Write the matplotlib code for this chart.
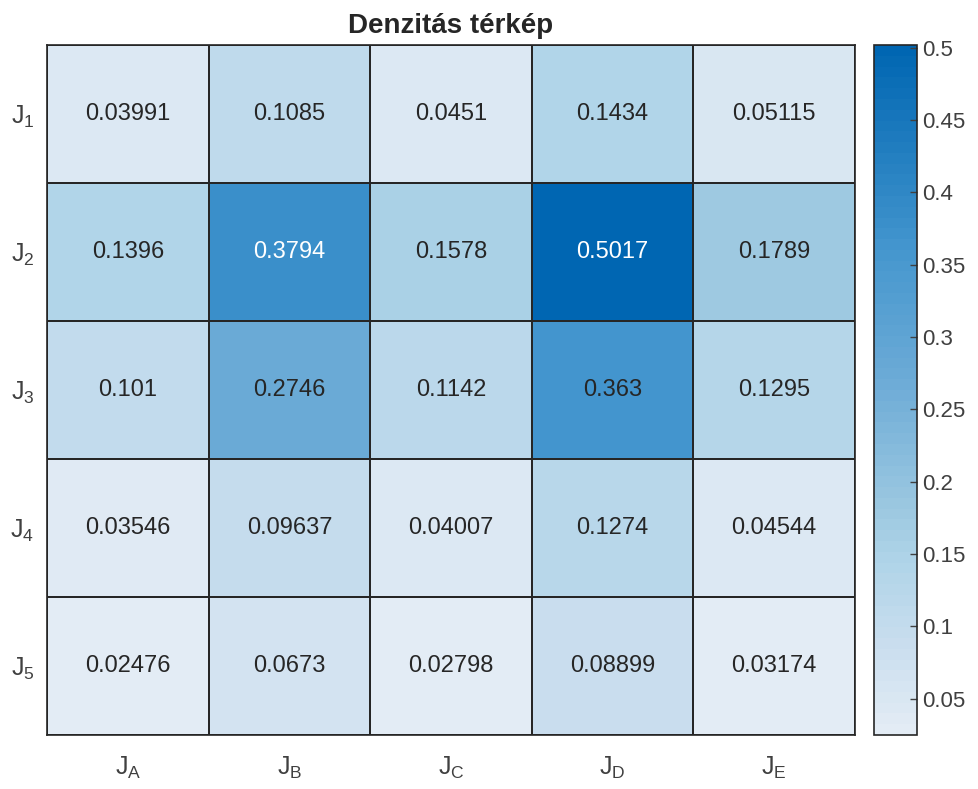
"""
Density heatmap (Denzitás térkép) recreated with matplotlib.
"""

import numpy as np
import matplotlib
matplotlib.use("Agg")
import matplotlib.pyplot as plt
from matplotlib.colors import LinearSegmentedColormap, Normalize

# ── Data ───────────────────────────────────────────────────────────────────
row_labels = ["1", "2", "3", "4", "5"]
col_labels = ["A", "B", "C", "D", "E"]

row_1 = [0.03991, 0.1085, 0.0451, 0.1434, 0.05115]
row_2 = [0.1396, 0.3794, 0.1578, 0.5017, 0.1789]
row_3 = [0.101, 0.2746, 0.1142, 0.363, 0.1295]
row_4 = [0.03546, 0.09637, 0.04007, 0.1274, 0.04544]
row_5 = [0.02476, 0.0673, 0.02798, 0.08899, 0.03174]

cbar_ticks = [0.05, 0.1, 0.15, 0.2, 0.25, 0.3, 0.35, 0.4, 0.45, 0.5]
title = "Denzitás térkép"

# ── Style ──────────────────────────────────────────────────────────────────
plt.rcParams["font.family"] = ["Liberation Sans", "DejaVu Sans"]
plt.rcParams["mathtext.fontset"] = "custom"
plt.rcParams["mathtext.rm"] = "Liberation Sans"

LABEL_GREY = "#404040"
EDGE = "#262626"

# blue map, light at the bottom, matlab heatmap style (64 steps)
cmap = LinearSegmentedColormap.from_list(
    "heat_blue",
    [(0.00, "#E3ECF5"),
     (0.13, "#C8DDEE"),
     (0.25, "#AFD4E8"),
     (0.32, "#9DC9E1"),
     (0.52, "#6BAAD6"),
     (0.71, "#4496CE"),
     (0.745, "#3A8FCA"),
     (1.00, "#0066B2")],
    N=64,
)


def main():
    values = np.array([row_1, row_2, row_3, row_4, row_5])
    norm = Normalize(vmin=values.min(), vmax=values.max())

    fig = plt.figure(figsize=(9.79, 7.89), dpi=100)
    ax = fig.add_axes([0.048, 0.0684, 0.8253, 0.8745])
    cax = fig.add_axes([0.8928, 0.0684, 0.0439, 0.8745])

    mesh = ax.pcolormesh(values, cmap=cmap, norm=norm,
                         edgecolors=EDGE, linewidth=1.2)
    ax.set_xlim(0, values.shape[1])
    ax.set_ylim(values.shape[0], 0)

    # cell labels
    for i in range(values.shape[0]):
        for j in range(values.shape[1]):
            v = values[i, j]
            colour = "white" if norm(v) > 0.72 else "#262626"
            ax.text(j + 0.5, i + 0.5, f"{v:.4g}", ha="center", va="center",
                    fontsize=17, color=colour)

    ax.set_xticks(np.arange(values.shape[1]) + 0.5)
    ax.set_xticklabels([rf"$\mathrm{{J}}_\mathrm{{{c}}}$" for c in col_labels])
    ax.set_yticks(np.arange(values.shape[0]) + 0.5)
    ax.set_yticklabels([rf"$\mathrm{{J}}_\mathrm{{{r}}}$" for r in row_labels])
    ax.tick_params(length=0, labelsize=18, colors=LABEL_GREY)
    ax.tick_params(axis="x", pad=14)
    ax.tick_params(axis="y", pad=9)
    for sp in ax.spines.values():
        sp.set_color(EDGE)
        sp.set_linewidth(1.2)

    ax.set_title(title, fontsize=20, fontweight="bold", color="#262626", pad=9)

    cb = fig.colorbar(mesh, cax=cax, ticks=cbar_ticks)
    cb.ax.set_yticklabels([f"{t:g}" for t in cbar_ticks])
    cb.ax.tick_params(direction="in", length=5, labelsize=16,
                      colors=LABEL_GREY, width=1)
    cb.outline.set_edgecolor(EDGE)
    cb.outline.set_linewidth(1.2)

    fig.savefig("out.png", dpi=100)
    plt.close(fig)


if __name__ == "__main__":
    main()
